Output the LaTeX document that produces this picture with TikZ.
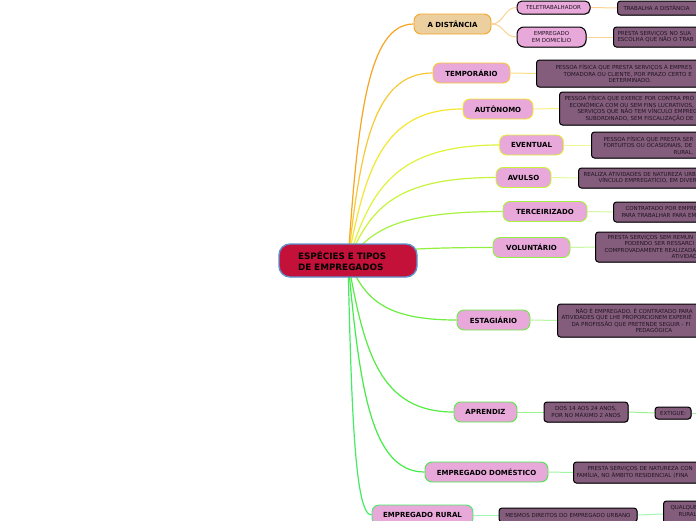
\documentclass[tikz,border=0pt]{standalone}
\usepackage{fontspec}
\setmainfont{DejaVu Sans}
\usetikzlibrary{calc,shadows}
\pgfdeclarelayer{bg}
\pgfsetlayers{bg,main}
\definecolor{pinkf}{HTML}{E8A8DA}
\definecolor{tanf}{HTML}{EBCF9F}
\definecolor{mauve}{HTML}{845C7C}
\definecolor{rootf}{HTML}{C4113A}
\definecolor{rootb}{HTML}{5B93CF}
\definecolor{txt}{HTML}{1F1420}
\definecolor{bA}{HTML}{F5A623}
\definecolor{bB}{HTML}{F7C934}
\definecolor{bC}{HTML}{F5E62E}
\definecolor{bD}{HTML}{E0F43A}
\definecolor{bE}{HTML}{C8F43C}
\definecolor{bF}{HTML}{A8F240}
\definecolor{bG}{HTML}{90F040}
\definecolor{bH}{HTML}{6CEE42}
\definecolor{bI}{HTML}{55EC44}
\definecolor{bJ}{HTML}{44EC48}
\definecolor{bK}{HTML}{44EC66}
\newcommand\mmbranch[3]{%
  \draw[#1, line width=1.2pt] let \p0=(#2), \p3=(#3) in
    (\p0) .. controls ({\x0+0.15*(\x3-\x0)},{\y0+0.6*(\y3-\y0)}) and ({\x0+0.3*(\x3-\x0)},{\y3}) .. (\p3);}
\begin{document}
\begin{tikzpicture}[x=1pt,y=-1pt,
  rootbox/.style={draw=rootb, line width=1.4pt, fill=rootf, rounded corners=11pt,
    minimum width=138pt, minimum height=33pt, inner xsep=19pt, inner ysep=0pt,
    text width=100pt, align=left, font=\fontsize{8.8}{11}\selectfont\bfseries, text=black},
  lone/.style={draw=#1, line width=0.9pt, fill=pinkf, rounded corners=7pt,
    minimum height=20pt, inner xsep=1pt, inner ysep=0pt,
    font=\fontsize{7}{8}\selectfont\bfseries, text=black},
  subbox/.style={draw=black, line width=1pt, fill=pinkf, rounded corners=5pt,
    inner sep=0pt, align=center, font=\fontsize{5.5}{6.5}\selectfont, text=txt,
    drop shadow={shadow xshift=0.6pt, shadow yshift=-0.6pt, opacity=0.4, fill=black}},
  desc/.style={draw=black, line width=1pt, fill=mauve, rounded corners=3pt,
    inner xsep=0pt, inner ysep=0pt, anchor=west, align=left,
    font=\fontsize{5.5}{6.5}\selectfont, text=txt,
    drop shadow={shadow xshift=0.6pt, shadow yshift=-0.6pt, opacity=0.45, fill=black}},
  descc/.style={desc, anchor=center, align=center},
  ctwo/.style={draw=#1, line width=1pt}
]
\useasboundingbox (0,0) rectangle (696,520);
\clip (0,0) rectangle (696,520);

% root
\node[rootbox] (root) at (348,260.5) {ESPÉCIES E TIPOS\\DE EMPREGADOS};

% level 1
\node[lone=bA, fill=tanf, minimum width=77pt] (adist) at (452.5,24) {A DISTÂNCIA};
\node[lone=bB, minimum width=77pt] (temp) at (471.5,73) {TEMPORÁRIO};
\node[lone=bC, minimum width=70pt] (aut) at (498,109) {AUTÔNOMO};
\node[lone=bD, minimum width=64pt] (ev) at (531.5,145) {EVENTUAL};
\node[lone=bE, minimum width=55pt] (av) at (523.5,177.5) {AVULSO};
\node[lone=bF, minimum width=84pt] (ter) at (545,211.5) {TERCEIRIZADO};
\node[lone=bG, minimum width=77pt] (vol) at (531.5,247.5) {VOLUNTÁRIO};
\node[lone=bH, minimum width=73pt] (est) at (493.5,320) {ESTAGIÁRIO};
\node[lone=bI, minimum width=63pt] (apr) at (485.5,412) {APRENDIZ};
\node[lone=bJ, minimum width=123pt] (dom) at (486.5,472) {EMPREGADO DOMÉSTICO};
\node[lone=bK, minimum width=101pt] (rur) at (422.5,515) {EMPREGADO RURAL};

% A DISTANCIA subtree
\node[subbox, minimum width=73pt, minimum height=13pt] (tele) at (553.5,7.5) {TELETRABALHADOR};
\node[subbox, rounded corners=7pt, minimum width=69pt, minimum height=20pt] (edom) at (551.5,37) {EMPREGADO\\EM DOMICÍLIO};
\node[desc, text width=90pt, minimum height=14pt] (tdist) at (617,8) {\hspace*{6pt}TRABALHA A DISTÂNCIA};
\node[desc, text width=100pt, minimum height=20pt] (edomd) at (613,37) {\hspace*{4pt}PRESTA SERVIÇOS NO SUA\\\hspace*{4pt}ESCOLHA QUE NÃO O TRAB};

% descriptions
\node[desc, text width=190pt, minimum height=27pt] (tempd) at (536,73.5)
  {\hspace*{19pt}PESSOA FÍSICA QUE PRESTA SERVIÇOS À EMPRES\\\hspace*{27pt}TOMADORA OU CLIENTE, POR PRAZO CERTO E\\\hspace*{72pt}DETERMINADO.};
\node[desc, text width=190pt, minimum height=33pt] (autd) at (559,108.5)
  {\hspace*{5pt}PESSOA FÍSICA QUE EXERCE POR CONTRA PRÓ\\\hspace*{10pt}ECONÔMICA COM OU SEM FINS LUCRATIVOS,\\\hspace*{18pt}SERVIÇOS QUE NÃO TEM VÍNCULO EMPREG\\\hspace*{26pt}SUBORDINADO, SEM FISCALIZAÇÃO DE};
\node[desc, text width=190pt, minimum height=26pt] (evd) at (591,145)
  {\hspace*{12pt}PESSOA FÍSICA QUE PRESTA SER\\\hspace*{12pt}FORTUITOS OU OCASIONAIS, DE\\\hspace*{82pt}RURAL.};
\node[desc, text width=190pt, minimum height=20pt] (avd) at (578,178)
  {\hspace*{5pt}REALIZA ATIVIDADES DE NATUREZA URB\\\hspace*{20pt}VÍNCULO EMPREGATÍCIO, EM DIVER};
\node[desc, text width=150pt, minimum height=20pt] (terd) at (613,212)
  {\hspace*{12pt}CONTRATADO POR EMPRE\\\hspace*{8pt}PARA TRABALHAR PARA EM};
\node[desc, text width=190pt, minimum height=30pt] (vold) at (595,247)
  {\hspace*{12pt}PRESTA SERVIÇOS SEM REMUN\\\hspace*{29pt}PODENDO SER RESSARCI\\\hspace*{9pt}COMPROVADAMENTE REALIZADA\\\hspace*{76pt}ATIVIDAD};
\node[desc, text width=190pt, minimum height=33pt] (estd) at (557,320.5)
  {\hspace*{18pt}NÃO É EMPREGADO. É CONTRATADO PARA\\\hspace*{4pt}ATIVIDADES QUE LHE PROPORCIONEM EXPERIÊ\\\hspace*{14pt}DA PROFISSÃO QUE PRETENDE SEGUIR - FI\\\hspace*{78pt}PEDAGÓGICA};
\node[descc, minimum width=84pt, minimum height=20pt] (aprd) at (586,412) {DOS 14 AOS 24 ANOS,\\POR NO MÁXIMO 2 ANOS};
\node[descc, minimum width=36pt, minimum height=12pt] (ext) at (673,413) {EXTIGUE:};
\coordinate (extnext) at (700,413);
\node[desc, text width=190pt, minimum height=21pt] (domd) at (573,472.5)
  {\hspace*{14pt}PRESTA SERVIÇOS DE NATUREZA CON\\\hspace*{3pt}FAMÍLIA, NO ÂMBITO RESIDENCIAL (FINA};
\node[descc, minimum width=138pt, minimum height=14pt] (rurd) at (568,515) {MESMOS DIREITOS DO EMPREGADO URBANO};
\node[desc, text width=60pt, minimum height=26pt] (qual) at (663,514) {\hspace*{7pt}QUALQUE\\\hspace*{15pt}RURAL\\\mbox{}};

% connectors
\begin{pgfonlayer}{bg}
\fill[white] (0,0) rectangle (696,520);
\mmbranch{bA}{root.center}{adist.west}
\mmbranch{bB}{root.center}{temp.west}
\mmbranch{bC}{root.center}{aut.west}
\mmbranch{bD}{root.center}{ev.west}
\mmbranch{bE}{root.center}{av.west}
\mmbranch{bF}{root.center}{ter.west}
\mmbranch{bG}{root.center}{vol.west}
\mmbranch{bH}{root.center}{est.west}
\mmbranch{bI}{root.center}{apr.west}
\mmbranch{bJ}{root.center}{dom.west}
\mmbranch{bK}{root.center}{rur.west}
\draw[ctwo=bA!50] (adist.east) .. controls +(13,0) and +(-13,0) .. (tele.west);
\draw[ctwo=bA!50] (adist.east) .. controls +(13,0) and +(-13,0) .. (edom.west);
\draw[ctwo=bA!50] (tele.east) -- (tdist.west);
\draw[ctwo=bA!50] (edom.east) -- (edomd.west);
\draw[ctwo=bB!60] (temp.east) -- (tempd.west);
\draw[ctwo=bC!60] (aut.east) -- (autd.west);
\draw[ctwo=bD!55] (ev.east) -- (evd.west);
\draw[ctwo=bE!50] (av.east) -- (avd.west);
\draw[ctwo=bF!50] (ter.east) -- (terd.west);
\draw[ctwo=bG!50] (vol.east) -- (vold.west);
\draw[ctwo=bH!50] (est.east) -- (estd.west);
\draw[ctwo=bI!60] (apr.east) -- (aprd.west);
\draw[ctwo=bI!60] (aprd.east) -- (ext.west);
\draw[ctwo=bI!60] (ext.east) -- (extnext);
\draw[ctwo=bJ!50] (dom.east) -- (domd.west);
\draw[ctwo=bK!50] (rur.east) -- (rurd.west);
\draw[ctwo=bK!50] (rurd.east) -- (qual.west);
\end{pgfonlayer}
\end{tikzpicture}
\end{document}
